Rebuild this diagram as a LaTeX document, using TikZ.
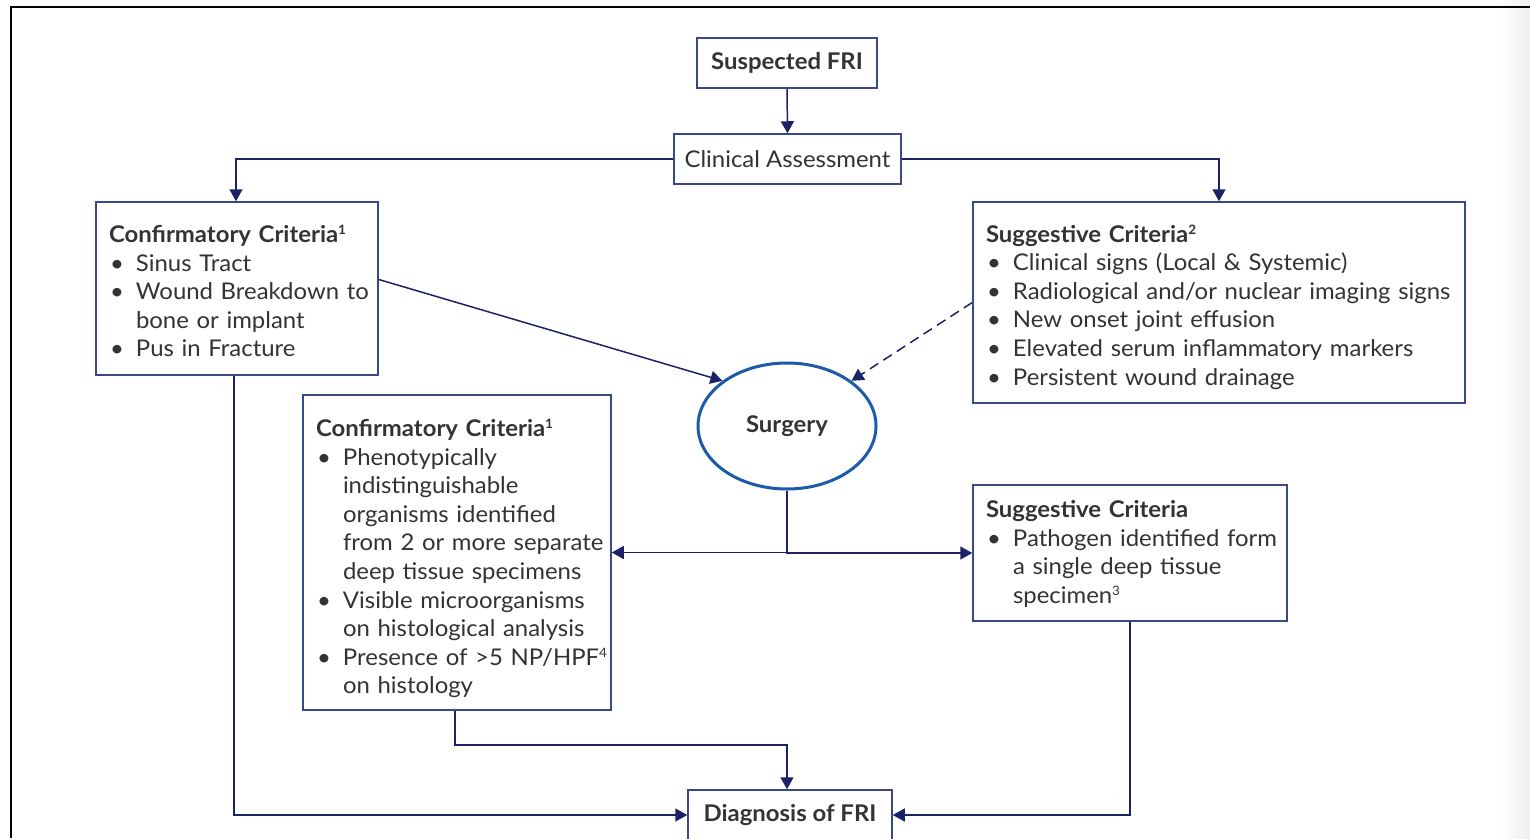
\documentclass[tikz,border=0pt]{standalone}
\usepackage{fontspec}
\setmainfont{Lato}[FakeStretch=1.04]
\usetikzlibrary{arrows.meta,shapes.geometric}
\definecolor{boxc}{HTML}{3A4888}
\definecolor{arrc}{HTML}{1B2266}
\definecolor{ellc}{HTML}{1E5AAA}
\definecolor{txtc}{HTML}{333333}
\newcommand{\itm}[1]{\mbox{\makebox[27pt][l]{\hspace{1pt}\textbullet}#1}}
\newcommand{\cnt}[1]{\mbox{\hspace*{27pt}#1}}
\newcommand{\sups}[1]{\raisebox{8pt}{\fontsize{13}{13}\selectfont #1}}
\newcommand{\ttl}[2]{\raisebox{0pt}[\dimexpr\height+#1\relax]{\textbf{#2}}}
\begin{document}
\begin{tikzpicture}[x=1pt,y=-1pt,
  every node/.style={font=\fontsize{23}{28.6}\selectfont, text=txtc},
  simplebox/.style={draw=boxc, line width=1.5pt, rectangle, inner sep=0pt},
  critbox/.style={draw=boxc, line width=1.5pt, rectangle, inner xsep=13pt, inner ysep=0pt, align=left},
  conn/.style={draw=arrc, line width=1.5pt},
  arr/.style={conn, -{Triangle[width=13pt,length=12pt]}}
]
\useasboundingbox (0,0) rectangle (1530,838);
\fill[white] (0,0) rectangle (1530,838);
\shade[left color=white, right color=black!6] (1498,0) rectangle (1530,838);
\draw[black, line width=2.3pt] (11,838) -- (11,7) -- (1530,7);

\node[simplebox, minimum width=180pt, minimum height=50pt, font=\fontsize{23}{28.6}\selectfont\bfseries] (susp) at (787,63) {Suspected FRI};
\node[simplebox, minimum width=227pt, minimum height=50pt] (clin) at (787.5,159) {Clinical Assessment};

\node[critbox, text width=256pt, minimum height=173pt] (conf1) at (237,288.5) {%
\ttl{5pt}{Confirmatory Criteria\sups{1}}\\
\itm{Sinus Tract}\\
\itm{Wound Breakdown to}\\
\cnt{bone or implant}\\
\itm{Pus in Fracture}};

\node[critbox, text width=466pt, minimum height=201pt] (sugg1) at (1219,302.5) {%
\ttl{9pt}{Suggestive Criteria\sups{2}}\\
\itm{Clinical signs (Local \& Systemic)}\\
\itm{Radiological and/or nuclear imaging signs}\\
\itm{New onset joint effusion}\\
\itm{Elevated serum inflammatory markers}\\
\itm{Persistent wound drainage}};

\node[ellipse, draw=ellc, line width=3pt, minimum width=178pt, minimum height=126pt, inner sep=0pt, font=\fontsize{23}{28.6}\selectfont\bfseries] (surg) at (787,426) {Surgery};

\node[critbox, text width=282pt, minimum height=315pt] (conf2) at (457,552.5) {%
\ttl{12pt}{Confirmatory Criteria\sups{1}}\\
\itm{Phenotypically}\\
\cnt{indistinguishable}\\
\cnt{organisms identified}\\
\cnt{from 2 or more separate}\\
\cnt{deep tissue specimens}\\
\itm{Visible microorganisms}\\
\cnt{on histological analysis}\\
\itm{Presence of >5 NP/HPF\sups{4}}\\
\cnt{on histology}};

\node[critbox, text width=288pt, minimum height=136pt] (sugg2) at (1130,553) {%
\ttl{2pt}{Suggestive Criteria}\\
\itm{Pathogen identified form}\\
\cnt{a single deep tissue}\\
\cnt{specimen\sups{3}}};

\node[simplebox, minimum width=204pt, minimum height=50pt, font=\fontsize{23}{28.6}\selectfont\bfseries] (diag) at (790,815) {Diagnosis of FRI};

\draw[arr] (susp.south) -- (clin.north);
\draw[arr] (clin.west) -| ([xshift=-1pt]conf1.north);
\draw[arr] (clin.east) -| (sugg1.north);
\draw[arr] ([yshift=9pt]conf1.east) -- (surg.145);
\draw[arr, dash pattern=on 10pt off 6pt] (sugg1.west) -- (surg.35);
\draw[arr] (surg.south) |- (conf2.east);
\draw[arr] (surg.south) |- (sugg2.west);
\draw[arr] ([xshift=-2pt]conf2.south) -- ++(0,34) -| ([xshift=-3pt]diag.north);
\draw[arr] ([xshift=-3pt]conf1.south) |- (diag.west);
\draw[arr] (sugg2.south) |- (diag.east);
\end{tikzpicture}
\end{document}
